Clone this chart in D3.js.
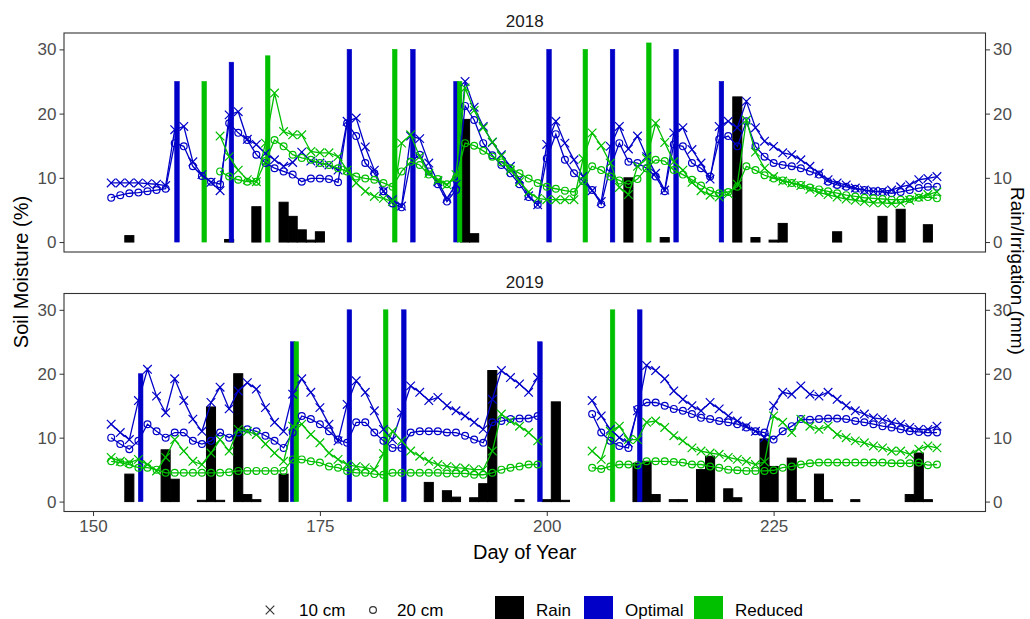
<!DOCTYPE html>
<html>
<head>
<meta charset="utf-8">
<script src="https://cdn.jsdelivr.net/npm/d3@7"></script>
<style>
  body { margin: 0; background: #fff; }
  svg { display: block; font-family: 'Liberation Sans', Arial, sans-serif; }
</style>
</head>
<body>
<div id="chart"></div>
<script>
// ---------- data ----------
// soil moisture is daily, both years start on day 152, end on day 243
const firstDay = 152
const years = ['2018', '2019']
const tickDays = [150, 175, 200, 225]
const tickMoist = [0, 10, 20, 30]

// 2018 (reduced plots start on day 164)
const o10_2018 = [9.2,9.2,9.2,9.2,9.1,9.0,8.8,17.5,18.0,12.5,10.5,9.3,8.0,19.8,20.3,16.0,15.2,13.8,12.8,11.8,12.4,14.0,12.6,12.3,12.0,11.2,18.8,19.3,14.8,11.2,7.9,6.6,5.6,16.5,16.1,12.3,9.4,6.8,9.0,25.0,21.0,18.0,15.5,13.6,11.8,9.8,7.2,5.8,15.2,18.8,15.4,12.8,10.2,8.0,6.3,14.9,18.0,14.5,16.5,13.3,10.7,8.1,17.0,17.8,14.4,12.3,9.8,18.0,18.8,17.8,21.9,17.8,15.7,14.9,13.9,13.6,12.8,11.8,10.7,9.7,9.2,8.9,8.4,8.1,7.9,7.9,8.1,8.6,8.9,9.7,9.9,10.2]
const o20_2018 = [6.9,7.3,7.6,7.7,7.9,8.1,8.3,15.4,14.9,11.8,10.3,9.4,9.0,18.5,17.0,15.9,13.6,12.3,11.5,11.0,10.5,9.4,9.9,9.9,9.8,9.3,18.5,16.5,12.3,10.7,7.9,6.0,5.4,12.5,13.6,11.0,9.0,6.3,8.1,21.2,19.0,15.4,13.5,12.0,10.7,9.0,7.0,5.8,13.0,16.8,12.8,10.7,9.5,8.1,5.9,11.6,15.4,12.5,12.3,11.5,10.2,7.9,15.2,14.9,12.3,11.5,10.2,16.0,16.5,14.9,18.8,14.9,13.3,12.3,12.0,11.8,11.5,11.0,10.5,9.4,8.9,8.6,8.3,8.1,7.9,7.8,7.6,7.8,8.1,8.4,8.6,8.6]
const redStart2018 = 164
const r10_2018 = [16.5,13.3,11.2,9.7,9.4,15.4,23.2,17.2,16.7,16.7,14.1,13.9,13.9,13.3,11.2,9.2,7.9,7.1,6.8,6.3,15.4,16.7,13.3,10.7,9.6,8.9,10.5,24.0,20.5,17.8,15.6,13.4,11.2,9.4,7.8,6.8,6.6,6.6,6.6,6.6,13.0,17.0,15.0,12.3,8.5,7.4,11.8,13.0,18.5,15.5,12.5,11.2,9.3,8.0,7.3,7.0,7.5,9.0,19.0,14.0,11.5,10.2,9.5,9.2,8.8,8.2,7.7,7.4,7.0,6.7,6.5,6.3,6.1,6.1,6.0,6.1,6.5,7.0,7.4,7.8]
const r20_2018 = [11.0,10.2,9.7,9.4,9.4,12.6,15.9,14.9,13.6,13.1,12.8,12.3,12.0,11.5,11.0,10.2,9.9,9.7,9.2,8.6,11.0,12.5,12.0,10.5,9.8,9.0,10.0,15.4,15.0,14.2,13.3,12.4,11.5,10.7,9.9,9.2,8.6,8.3,8.0,7.8,9.5,11.8,11.2,10.2,9.6,9.0,9.8,11.5,12.8,12.6,11.2,10.5,9.7,8.8,8.0,7.6,7.8,8.6,11.8,11.2,10.4,9.9,9.6,9.2,8.9,8.5,8.2,7.9,7.6,7.3,7.1,6.9,6.8,6.7,6.6,6.6,6.7,6.9,7.0,6.8]

// 2019 (no readings on days 200-204)
const o10_2019 = [12.1,10.8,9.7,15.8,20.7,16.5,13.9,19.2,15.8,12.9,11.0,15.5,17.9,14.5,17.3,18.6,17.6,14.7,12.4,11.0,16.8,19.2,17.1,14.7,12.1,9.5,15.2,18.9,17.1,14.2,11.3,9.7,13.9,18.1,17.1,15.8,16.3,15.0,14.2,13.4,12.4,11.3,16.0,20.5,19.4,18.4,17.1,19.4,
  null,null,null,null,null,
  15.8,13.4,11.3,10.0,9.2,14.2,21.3,20.5,19.2,17.3,16.0,15.0,14.2,15.5,14.5,13.4,12.6,11.8,11.0,10.0,15.0,17.1,16.8,18.1,16.8,16.5,17.1,16.0,15.0,14.2,13.7,13.1,12.9,12.4,12.1,11.6,11.3,11.3,11.8]
const o20_2019 = [10.0,9.0,8.2,9.5,12.1,11.0,10.0,10.8,10.8,9.5,9.0,9.5,10.8,10.0,10.8,11.3,11.0,10.3,9.5,8.4,10.8,13.4,12.9,12.1,11.0,9.7,9.2,12.4,12.4,10.8,9.5,8.4,8.4,10.8,11.0,11.0,11.0,10.8,10.8,10.3,9.7,9.2,12.4,12.6,12.9,13.0,13.0,13.4,
  null,null,null,null,null,
  13.7,10.8,9.5,8.7,8.4,14.5,15.5,15.5,15.0,14.5,14.2,13.7,13.1,12.9,12.6,12.4,12.1,11.6,11.0,10.8,9.7,11.0,11.8,12.9,12.8,12.9,13.0,13.0,12.9,12.6,12.4,12.1,11.8,11.6,11.3,11.0,10.9,10.8,10.8]
const r10_2019 = [6.9,6.3,6.1,6.6,5.8,4.8,6.9,9.7,7.9,6.3,5.8,7.6,9.7,7.9,11.3,11.0,10.5,9.0,7.6,6.3,11.8,12.1,10.5,9.2,7.6,6.6,5.8,5.5,5.3,5.0,7.5,11.0,9.5,7.9,7.1,6.3,5.8,5.5,5.3,5.2,5.0,5.0,7.9,13.7,12.6,11.8,10.8,9.5,
  null,null,null,null,null,
  7.9,6.6,11.0,11.8,9.7,9.7,12.4,12.6,11.6,10.3,9.5,8.4,7.9,7.6,7.4,6.9,6.6,6.3,5.8,6.2,13.4,12.4,10.8,12.9,11.8,11.3,11.8,10.5,10.0,9.5,9.2,8.7,8.4,7.9,7.9,7.4,8.2,8.7,8.4]
const r20_2019 = [6.3,6.1,5.8,5.3,5.3,5.0,4.5,4.5,4.5,4.5,4.5,4.5,4.5,4.6,4.8,4.8,4.8,4.8,4.8,4.8,6.6,6.6,6.3,6.1,5.5,5.3,4.8,4.5,4.5,4.3,4.2,4.5,4.5,4.5,4.5,4.5,4.5,4.4,4.4,4.4,4.2,4.2,4.5,5.0,5.3,5.5,5.8,5.8,
  null,null,null,null,null,
  5.3,5.1,5.5,5.8,5.8,5.7,6.3,6.3,6.3,6.2,6.1,5.8,5.8,5.5,5.3,5.0,4.9,4.8,4.8,4.8,4.9,5.3,5.5,5.8,6.0,6.1,6.1,6.1,6.1,6.1,6.1,6.1,6.1,6.0,6.0,6.0,6.1,5.7,5.8]

// rain (mm)
const rainDay2018 = [154,165,168,171,172,173,174,175,191,192,209,213,221,223,225,226,232,237,239,242]
const rain2018 = [1.0,0.4,5.5,6.2,4.0,1.9,0.3,1.6,19.1,1.3,10.0,0.7,22.6,0.7,0.3,2.9,1.6,4.0,5.1,2.7]
const rainDay2019 = [154,158,159,162,163,164,166,167,168,171,187,189,190,192,193,194,197,200,201,202,210,211,212,214,215,217,218,220,221,224,225,227,228,230,231,234,240,241,242]
const rain2019 = [4.3,8.1,3.5,0.2,14.8,0.2,20.0,1.1,0.3,4.3,3.0,1.7,0.7,0.6,2.8,20.5,0.3,0.3,15.6,0.2,6.0,6.3,1.1,0.3,0.3,5.0,7.1,2.0,0.6,9.8,5.5,6.8,0.3,4.3,0.3,0.3,1.1,7.6,0.3]

// irrigation (mm)
const optDay2018 = [159,165,178,185,190,200,207,214,219]
const opt2018 = [25,28,30,30,25,30,30,30,25]
const redDay2018 = [162,169,183,190,204,211]
const red2018 = [25,29,30,25,30,31]
const optDay2019 = [155,172,178,184,199,210]
const opt2019 = [20,25,30,30,25,30]
const redDay2019 = [172,182,207]
const red2019 = [25,30,30]

// ---------- layout ----------
let width = 1030
let height = 619
let blue = '#0000C8'
let green = '#00C000'
let panelLeft = 64
let panelRight = 985.5
let panelBox = [[33, 252], [293.5, 511.5]]

let svg = d3.select('#chart').append('svg').attr('width', width).attr('height', height)

// 横坐标比例尺 (shared by both facets)
let x = d3.scaleLinear().domain([146.8, 248.35]).range([panelLeft, panelRight])

function toPoints (vals, start) {
  return vals.map((v, i) => ({ day: start + i, v: v }))
}
function toBars (days, vals) {
  return days.map((d, i) => ({ day: d, v: vals[i] }))
}

let panelData = [
  {
    opt10: toPoints(o10_2018, firstDay), opt20: toPoints(o20_2018, firstDay),
    red10: toPoints(r10_2018, redStart2018), red20: toPoints(r20_2018, redStart2018),
    rain: toBars(rainDay2018, rain2018), opt: toBars(optDay2018, opt2018), red: toBars(redDay2018, red2018)
  },
  {
    opt10: toPoints(o10_2019, firstDay), opt20: toPoints(o20_2019, firstDay),
    red10: toPoints(r10_2019, firstDay), red20: toPoints(r20_2019, firstDay),
    rain: toBars(rainDay2019, rain2019), opt: toBars(optDay2019, opt2019), red: toBars(redDay2019, red2019)
  }
]

function styleAxis (g) {
  g.select('.domain').remove()
  g.selectAll('.tick line').attr('stroke', '#333').attr('stroke-width', 1)
  g.selectAll('.tick text').attr('fill', '#4D4D4D').style('font-size', '17px').style('font-family', "'Liberation Sans', Arial, sans-serif")
}

function crossPath (s) {
  return 'M' + (-s) + ',' + (-s) + 'L' + s + ',' + s + 'M' + (-s) + ',' + s + 'L' + s + ',' + (-s)
}

years.forEach((year, pi) => {
  let top = panelBox[pi][0]
  let bottom = panelBox[pi][1]
  let data = panelData[pi]
  let y = d3.scaleLinear().domain([-1.55, 32.55]).range([bottom, top])
  let g = svg.append('g').attr('class', 'panel-' + year)

  g.append('clipPath').attr('id', 'clip' + pi)
    .append('rect').attr('x', panelLeft).attr('y', top).attr('width', panelRight - panelLeft).attr('height', bottom - top)
  let inner = g.append('g').attr('clip-path', 'url(#clip' + pi + ')')

  // 雨量柱
  inner.append('g').selectAll('rect').data(data.rain).enter().append('rect')
    .attr('x', d => x(d.day - 0.5))
    .attr('width', d => x(d.day + 0.5) - x(d.day - 0.5))
    .attr('y', d => y(d.v))
    .attr('height', d => y(0) - y(d.v))
    .attr('fill', '#000').attr('stroke', '#000').attr('stroke-width', 1)

  // 灌溉柱, nudged a bit right; when both treatments irrigate the same day they sit side by side
  let optDays = data.opt.map(d => d.day)
  let redDays = data.red.map(d => d.day)
  let irr = [
    { rows: data.opt, col: blue, shift: d => redDays.includes(d.day) ? 0 : 0.25 },
    { rows: data.red, col: green, shift: d => optDays.includes(d.day) ? 0.4 : 0.25 }
  ]
  irr.forEach(s => {
    inner.append('g').selectAll('rect').data(s.rows).enter().append('rect')
      .attr('x', d => x(d.day + s.shift(d) - 0.25))
      .attr('width', x(1.5) - x(1))
      .attr('y', d => y(d.v))
      .attr('height', d => y(0) - y(d.v))
      .attr('fill', s.col).attr('stroke', s.col).attr('stroke-width', 0.6)
  })

  // 土壤水分线
  let line = d3.line().defined(d => d.v !== null).x(d => x(d.day)).y(d => y(d.v))
  let series = [
    { pts: data.opt10, col: blue, mark: 'x' },
    { pts: data.opt20, col: blue, mark: 'o' },
    { pts: data.red10, col: green, mark: 'x' },
    { pts: data.red20, col: green, mark: 'o' }
  ]
  series.forEach(s => {
    inner.append('path').datum(s.pts).attr('d', line)
      .attr('fill', 'none').attr('stroke', s.col).attr('stroke-width', 1.3)
    let pts = s.pts.filter(d => d.v !== null)
    if (s.mark === 'x') {
      inner.append('g').selectAll('path').data(pts).enter().append('path')
        .attr('d', crossPath(4.3))
        .attr('transform', d => 'translate(' + x(d.day) + ',' + y(d.v) + ')')
        .attr('fill', 'none').attr('stroke', s.col).attr('stroke-width', 1.2)
    } else {
      inner.append('g').selectAll('circle').data(pts).enter().append('circle')
        .attr('cx', d => x(d.day)).attr('cy', d => y(d.v)).attr('r', 3.4)
        .attr('fill', 'none').attr('stroke', s.col).attr('stroke-width', 1.2)
    }
  })

  // 面板边框
  g.append('rect').attr('x', panelLeft).attr('y', top)
    .attr('width', panelRight - panelLeft).attr('height', bottom - top)
    .attr('fill', 'none').attr('stroke', '#333').attr('stroke-width', 1.1)

  // 左右纵坐标
  g.append('g').attr('transform', 'translate(' + panelLeft + ',0)')
    .call(d3.axisLeft(y).tickValues(tickMoist).tickSize(4.5).tickPadding(3)).call(styleAxis)
  g.append('g').attr('transform', 'translate(' + panelRight + ',0)')
    .call(d3.axisRight(y).tickValues(tickMoist).tickSize(4.5).tickPadding(3)).call(styleAxis)

  // facet strip title
  g.append('text').text(year)
    .attr('x', (panelLeft + panelRight) / 2).attr('y', top - 6)
    .attr('text-anchor', 'middle').attr('fill', '#1A1A1A').style('font-size', '17px')

  if (pi === years.length - 1) {
    g.append('g').attr('transform', 'translate(0,' + bottom + ')')
      .call(d3.axisBottom(x).tickValues(tickDays).tickSize(4.5).tickPadding(4)).call(styleAxis)
  }
})

// 坐标轴标题
svg.append('text').text('Day of Year')
  .attr('x', (panelLeft + panelRight) / 2).attr('y', 559)
  .attr('text-anchor', 'middle').style('font-size', '20px').attr('fill', '#000')
svg.append('text').text('Soil Moisture (%)')
  .attr('transform', 'translate(28,272) rotate(-90)')
  .attr('text-anchor', 'middle').style('font-size', '20px').attr('fill', '#000')
// right title sits tight against the edge, kept just inside it
svg.append('text').text('Rain/Irrigation (mm)')
  .attr('transform', 'translate(1011,271) rotate(90)')
  .attr('text-anchor', 'middle').style('font-size', '19px').attr('fill', '#000')

// 图例
let legend = svg.append('g').attr('class', 'legend')
let lgY = 610
legend.append('path').attr('d', crossPath(4.3)).attr('transform', 'translate(270,' + lgY + ')')
  .attr('stroke', '#333').attr('stroke-width', 1.2).attr('fill', 'none')
legend.append('text').text('10 cm').attr('x', 299).attr('y', lgY + 6).style('font-size', '17px')
legend.append('circle').attr('cx', 373).attr('cy', lgY).attr('r', 3.4)
  .attr('stroke', '#333').attr('stroke-width', 1.2).attr('fill', 'none')
legend.append('text').text('20 cm').attr('x', 397).attr('y', lgY + 6).style('font-size', '17px')

let keys = [
  { label: 'Rain', col: '#000', x0: 495 },
  { label: 'Optimal', col: blue, x0: 584 },
  { label: 'Reduced', col: green, x0: 694 }
]
keys.forEach(k => {
  legend.append('rect').attr('x', k.x0).attr('y', 596).attr('width', 29).attr('height', 29).attr('fill', k.col)
  legend.append('text').text(k.label).attr('x', k.x0 + 41).attr('y', lgY + 6).style('font-size', '17px')
})
</script>
</body>
</html>
